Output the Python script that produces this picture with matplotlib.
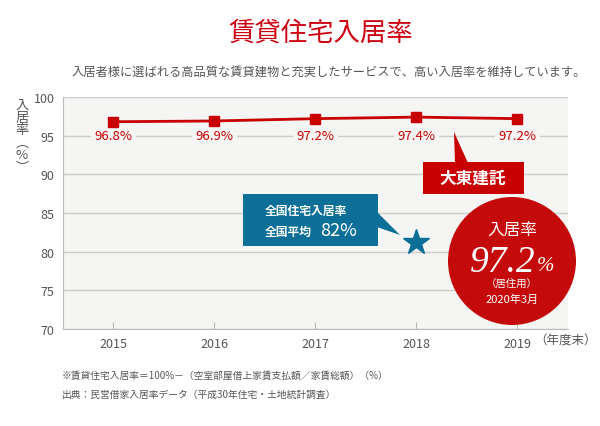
import matplotlib
matplotlib.use("Agg")
import matplotlib.pyplot as plt
from matplotlib.patches import Rectangle, Polygon, Circle

plt.rcParams['font.family'] = ['Noto Sans CJK JP', 'DejaVu Sans']

# ---- data ----
years = [2015, 2016, 2017, 2018, 2019]
rates = [96.8, 96.9, 97.2, 97.4, 97.2]
rate_labels = ["96.8%", "96.9%", "97.2%", "97.4%", "97.2%"]
national_x = 2018
national_y = 81.2
yticks = [70, 75, 80, 85, 90, 95, 100]

RED = "#c80000"
BLUE = "#0b6f98"
GRAY = "#555555"
BG = "#f5f5f3"

W, H = 600, 427
fig = plt.figure(figsize=(W / 100, H / 100), dpi=100)
T = fig.dpi_scale_trans


def P(x, y):
    # pixel coords (from top-left) -> inches
    return (x / 100, (H - y) / 100)


ax = fig.add_axes([63 / W, 1 - 330 / H, (568 - 63) / W, (330 - 98) / H])
ax.set_facecolor(BG)
ax.set_xlim(2014.5, 2019.5)
ax.set_ylim(70, 100)
ax.set_yticks(yticks)
ax.set_xticks(years)
ax.set_xticklabels([str(y) for y in years])
ax.grid(axis="y", color="#cccccc", lw=1)
ax.set_axisbelow(True)
for s in ("top", "right"):
    ax.spines[s].set_visible(False)
for s in ("left", "bottom"):
    ax.spines[s].set_color("#bbbbbb")
ax.tick_params(axis="x", direction="in", length=5, color="#bbbbbb",
               labelsize=9, labelcolor=GRAY, pad=6)
ax.tick_params(axis="y", length=0, labelsize=9, labelcolor=GRAY, pad=6)

ax.plot(years, rates, color=RED, lw=2, marker="s", ms=7.5, zorder=3)
for x, lab in zip(years, rate_labels):
    ax.text(x, 95, lab, color=RED, fontsize=9.5, ha="center", va="center",
            bbox=dict(boxstyle="square,pad=0.25", fc=BG, ec="none"), zorder=2)

ax.plot([national_x], [national_y], marker="*", color=BLUE, ms=19,
        ls="none", zorder=4, clip_on=False)

fig.text(*P(534, 341), "（年度末）", transform=T, fontsize=9, color=GRAY,
         ha="left", va="center")

# y label, stacked vertically
fig.text(*P(22, 137), "入\n居\n率\n︵\n%\n︶", transform=T, fontsize=9.5,
         color=GRAY, ha="center", va="center", linespacing=0.95)

# title + subtitle
fig.text(*P(321, 33), "賃貸住宅入居率", transform=T, fontsize=19, color="#cc0010",
         ha="center", va="center")
fig.text(*P(72, 72), "入居者様に選ばれる高品質な賃貸建物と充実したサービスで、高い入居率を維持しています。",
         transform=T, fontsize=8.8, color=GRAY, ha="left", va="center")

# blue callout
fig.add_artist(Rectangle(P(243, 247), 135 / 100, 52 / 100, transform=T,
                         fc=BLUE, ec="none"))
fig.add_artist(Polygon([P(377, 213), P(400, 236), P(377, 228)], transform=T,
                       fc=BLUE, ec="none"))
fig.text(*P(265, 211), "全国住宅入居率", transform=T, fontsize=8.5, color="white",
         weight="bold", ha="left", va="center")
fig.text(*P(265, 232), "全国平均", transform=T, fontsize=8.5, color="white",
         weight="bold", ha="left", va="center")
fig.text(*P(320, 231), "82%", transform=T, fontsize=13, color="white",
         ha="left", va="center")

# red callout
fig.add_artist(Rectangle(P(423, 195), 101 / 100, 32 / 100, transform=T,
                         fc=RED, ec="none"))
fig.add_artist(Polygon([P(454, 133), P(468, 164), P(455, 164)], transform=T,
                       fc=RED, ec="none"))
fig.text(*P(473, 179), "大東建託", transform=T, fontsize=12, color="white",
         weight="bold", ha="center", va="center")

# red circle
fig.add_artist(Circle(P(512, 262), 0.64, transform=T, fc="#c40a0a", ec="none"))
fig.text(*P(512, 230), "入居率", transform=T, fontsize=12, color="white",
         ha="center", va="center")
fig.text(*P(503, 263), "97.2", transform=T, fontsize=27, color="white",
         family="Liberation Serif", style="italic", ha="center", va="center")
fig.text(*P(546, 267), "%", transform=T, fontsize=15, color="white",
         family="Liberation Serif", style="italic", ha="center", va="center")
fig.text(*P(512, 285), "（居住用）", transform=T, fontsize=7.5, color="white",
         ha="center", va="center")
fig.text(*P(512, 300), "2020年3月", transform=T, fontsize=8, color="white",
         ha="center", va="center")

# footnotes
fig.text(*P(62, 376), "※賃貸住宅入居率＝100%－（空室部屋借上家賃支払額／家賃総額）（%）",
         transform=T, fontsize=7, color=GRAY, ha="left", va="center")
fig.text(*P(62, 395), "出典：民営借家入居率データ（平成30年住宅・土地統計調査）",
         transform=T, fontsize=7, color=GRAY, ha="left", va="center")

fig.savefig("out.png", dpi=100)
